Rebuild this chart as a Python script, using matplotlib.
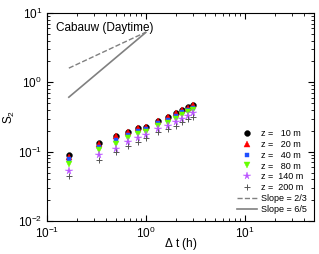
import numpy as np
import matplotlib
matplotlib.use('Agg')
import matplotlib.pyplot as plt

plt.rcParams['font.family'] = ['Liberation Sans', 'DejaVu Sans']
plt.rcParams['mathtext.fontset'] = 'custom'
plt.rcParams['mathtext.rm'] = 'Liberation Sans'
plt.rcParams['mathtext.it'] = 'Liberation Sans:italic'

# time lags (h)
dt = [1/6, 1/3, 1/2, 2/3, 5/6, 1.0, 4/3, 5/3, 2.0, 7/3, 8/3, 3.0]

s2_10 = [0.088, 0.132, 0.170, 0.193, 0.220, 0.230, 0.280, 0.320, 0.365, 0.400, 0.438, 0.478]
s2_20 = [0.085, 0.128, 0.166, 0.190, 0.216, 0.225, 0.275, 0.315, 0.360, 0.393, 0.430, 0.470]
s2_40 = [0.078, 0.117, 0.146, 0.174, 0.200, 0.210, 0.257, 0.288, 0.329, 0.367, 0.400, 0.430]
s2_80 = [0.067, 0.105, 0.130, 0.158, 0.180, 0.193, 0.235, 0.263, 0.300, 0.336, 0.367, 0.400]
s2_140 = [0.052, 0.089, 0.110, 0.137, 0.158, 0.172, 0.210, 0.233, 0.269, 0.300, 0.329, 0.360]
s2_200 = [0.045, 0.077, 0.098, 0.119, 0.138, 0.158, 0.190, 0.210, 0.236, 0.269, 0.294, 0.320]

heights = [10, 20, 40, 80, 140, 200]
series = [s2_10, s2_20, s2_40, s2_80, s2_140, s2_200]
markers = ['o', '^', 's', 'v', '*', '+']
colors = ['black', 'red', '#1f4fff', '#66ff00', '#bb55ff', '#555555']
sizes = [4.2, 4.2, 3.5, 4.5, 5.5, 5]

# reference slopes
x_ref = [1/6, 1.0]
y_23 = [1.6, 1.6 * 6 ** (2/3)]
y_65 = [0.61, 0.61 * 6 ** (6/5)]

fig = plt.figure(figsize=(3.19, 2.54), dpi=100)
ax = fig.add_axes([0.147, 0.13, 0.837, 0.819])

for h, s, m, c, ms in zip(heights, series, markers, colors, sizes):
    ax.plot(dt, s, linestyle='none', marker=m, color=c, markersize=ms,
            markeredgewidth=0.7 if m == '+' else 0.3,
            label='z = %4d m' % h if h >= 100 else 'z =   %d m' % h)

ax.plot(x_ref, y_23, '--', color='#808080', lw=1.0, label='Slope = 2/3')
ax.plot(x_ref, y_65, '-', color='#808080', lw=1.2, label='Slope = 6/5')

ax.set_xscale('log')
ax.set_yscale('log')
ax.set_xlim(0.1, 50)
ax.set_ylim(0.01, 10)
ax.tick_params(which='both', direction='in', top=True, right=True, labelsize=8.5)
ax.tick_params(which='major', length=4)
ax.tick_params(which='minor', length=2)
for sp in ax.spines.values():
    sp.set_linewidth(0.8)

ax.text(0.035, 0.955, 'Cabauw (Daytime)', transform=ax.transAxes,
        fontsize=8.5, va='top', ha='left')
ax.set_xlabel(r'$\Delta$ t (h)', fontsize=8.5, va='center')
ax.xaxis.set_label_coords(0.5, -0.11)
ax.set_ylabel(r'S$_2$', fontsize=8.5, va='center')
ax.yaxis.set_label_coords(-0.14, 0.5)

ax.legend(loc='lower right', frameon=False, fontsize=6.5, labelspacing=0.2,
          handlelength=2.2, handletextpad=0.4, borderaxespad=0.4,
          markerscale=1.0)

plt.savefig('out.png', dpi=100)
